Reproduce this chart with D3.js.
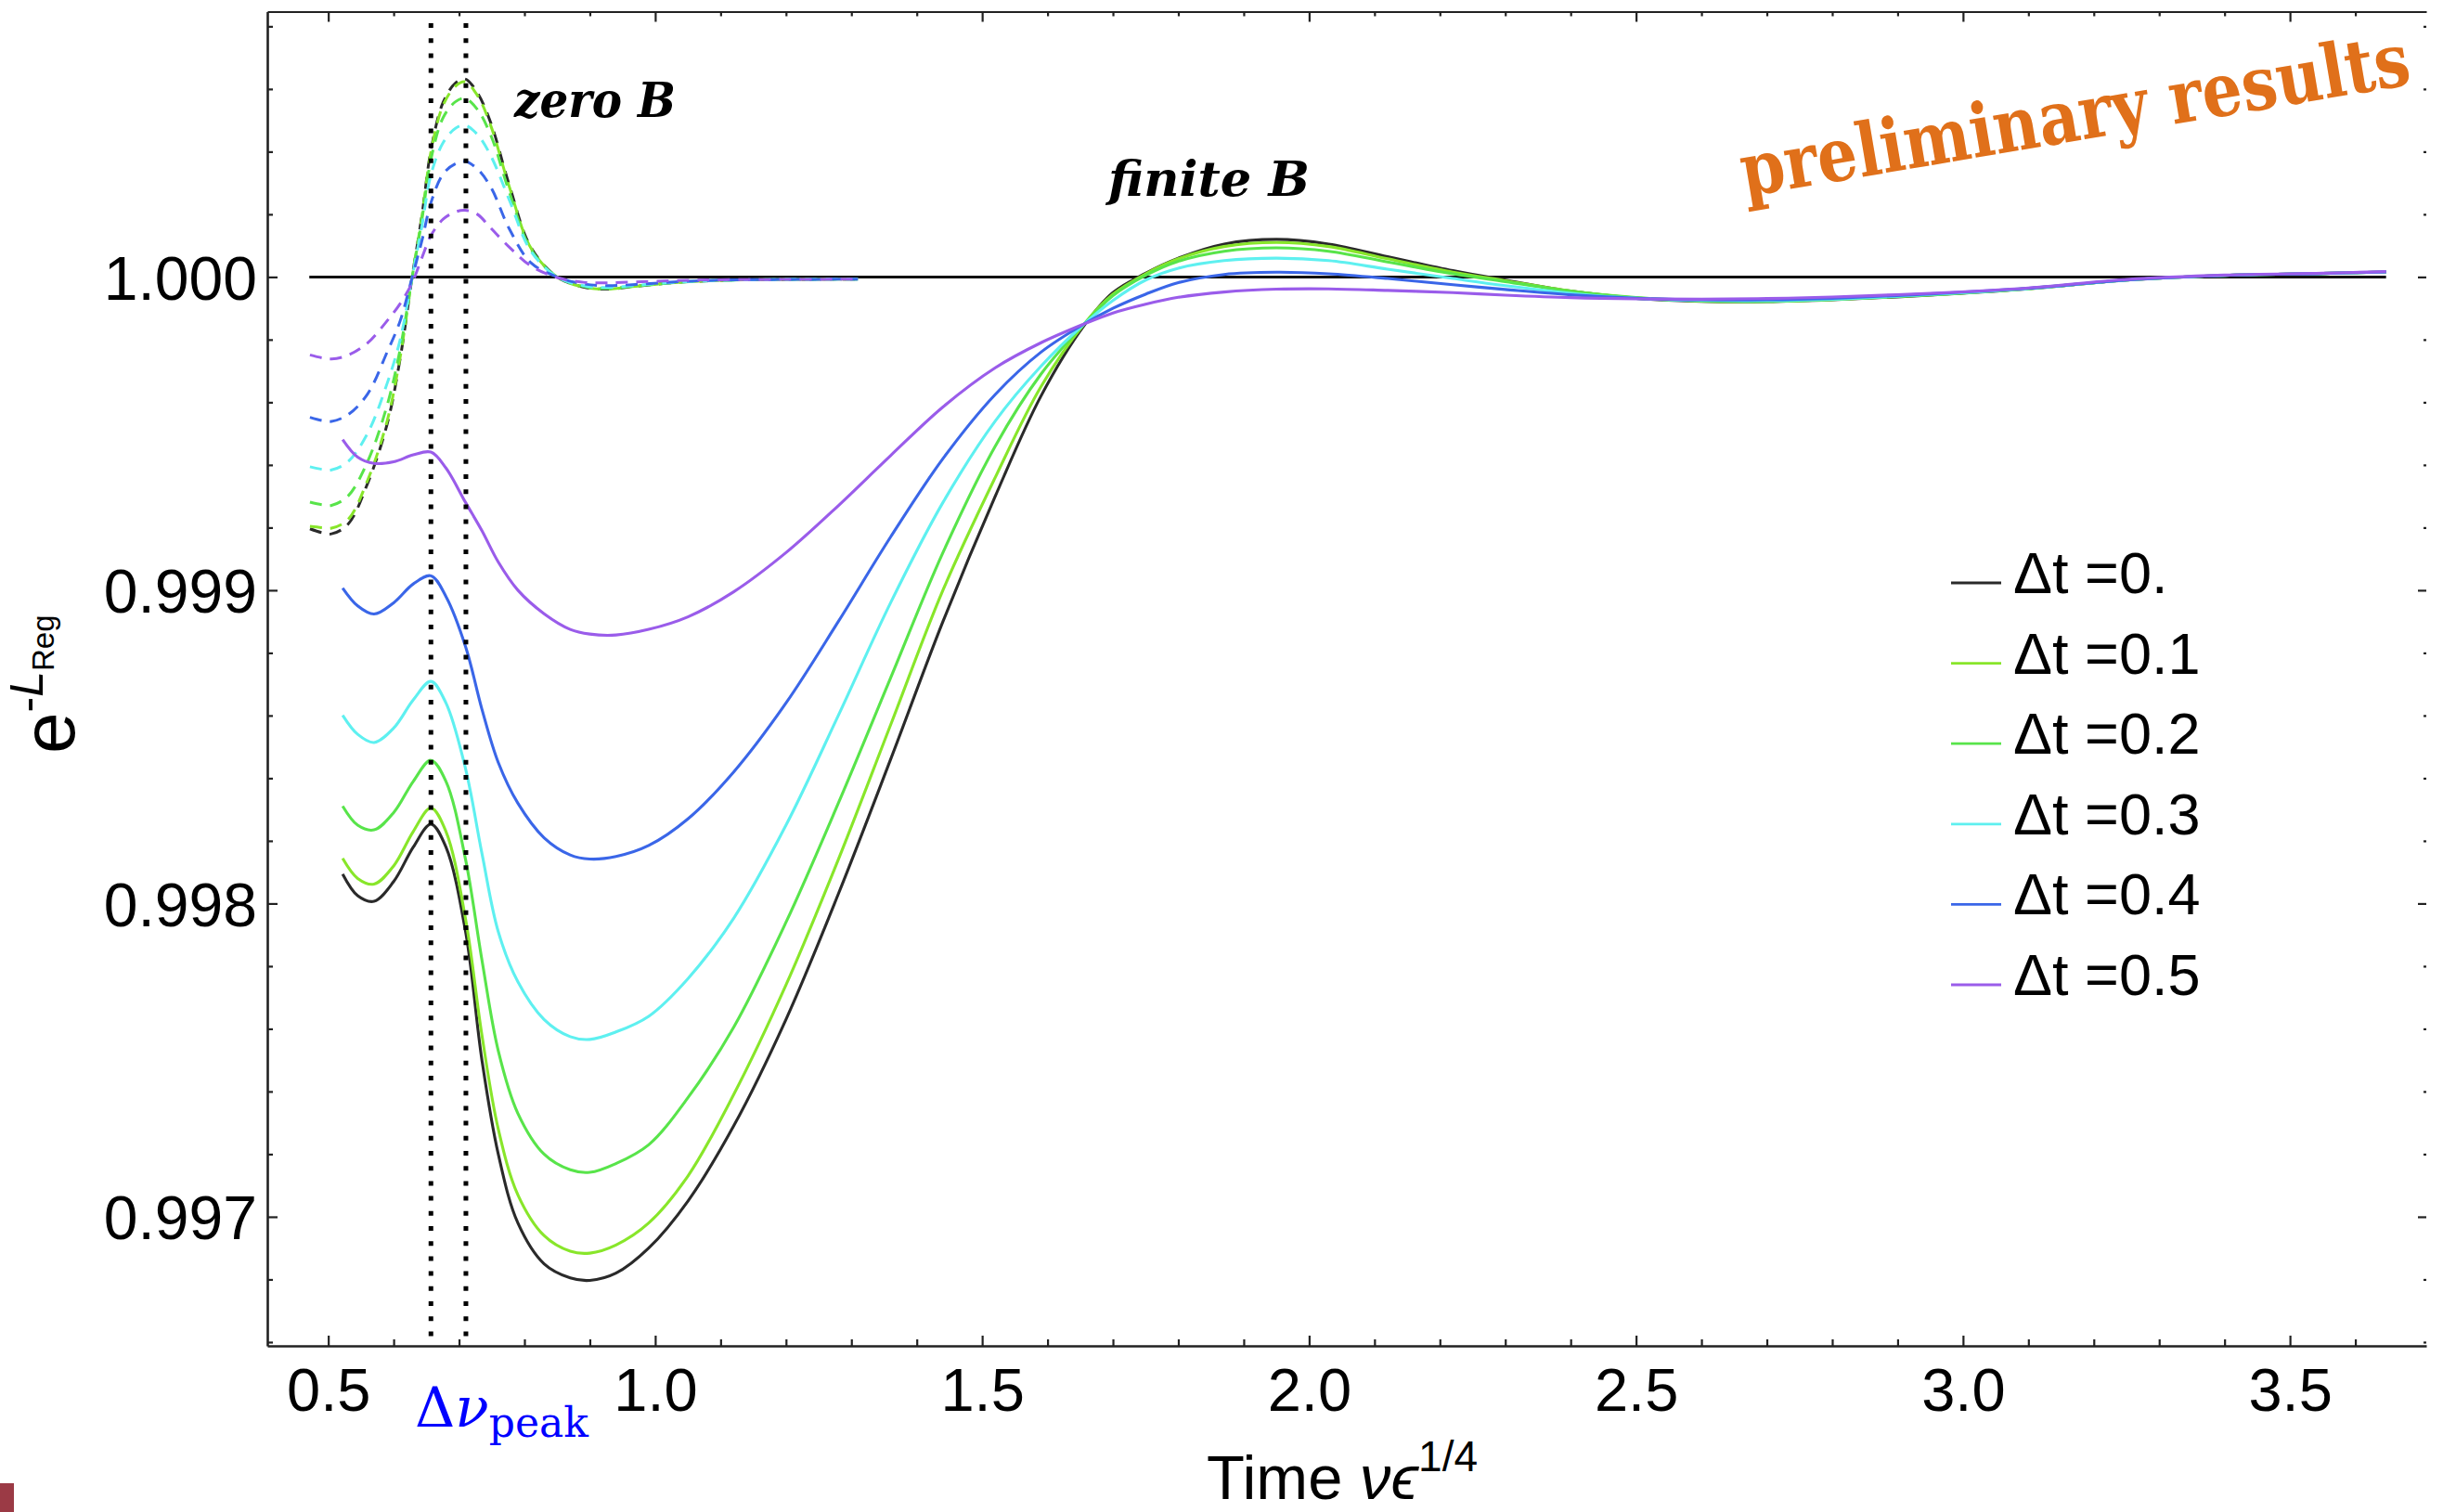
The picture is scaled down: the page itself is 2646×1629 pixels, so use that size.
<!DOCTYPE html>
<html><head><meta charset="utf-8">
<script src="https://cdn.jsdelivr.net/npm/d3@7"></script>
<style>html,body{margin:0;padding:0;background:#fff}svg{display:block}</style>
</head><body>
<svg id="c" width="2646" height="1629"></svg>
<script>
// ---------------- data ----------------
const seriesLabels = ["Δt =0.", "Δt =0.1", "Δt =0.2", "Δt =0.3", "Δt =0.4", "Δt =0.5"];
const seriesColors = ["#2a2a2a", "#88E62A", "#58E44A", "#5EF0F0", "#3A66E8", "#9A5CEA"];

// finite B (solid) – common time grid
const xFinite = [0.522,0.545,0.570,0.600,0.630,0.657,0.680,0.710,0.735,0.760,0.790,0.830,0.870,0.900,0.940,0.990,1.050,1.120,1.200,1.280,1.360,1.440,1.520,1.590,1.656,1.700,1.750,1.800,1.870,1.950,2.030,2.120,2.220,2.300,2.400,2.500,2.600,2.700,2.800,2.950,3.100,3.250,3.400,3.550,3.647];
const finiteDt0 = [0.998094,0.998025,0.998007,0.998070,0.998180,0.998253,0.998180,0.997910,0.997500,0.997200,0.996980,0.996850,0.996805,0.996797,0.996820,0.996900,0.997050,0.997290,0.997630,0.998030,0.998460,0.998900,0.999300,0.999620,0.999845,0.999950,1.000012,1.000060,1.000105,1.000120,1.000105,1.000065,1.000020,0.999990,0.999955,0.999932,0.999922,0.999921,0.999927,0.999942,0.999962,0.999990,1.000005,1.000011,1.000016];
const finiteDt1 = [0.998144,0.998080,0.998062,0.998120,0.998230,0.998305,0.998230,0.997950,0.997580,0.997280,0.997070,0.996940,0.996890,0.996884,0.996910,0.996980,0.997130,0.997390,0.997740,0.998140,0.998570,0.999000,0.999360,0.999650,0.999850,0.999945,1.000010,1.000058,1.000097,1.000110,1.000097,1.000058,1.000015,0.999988,0.999955,0.999933,0.999923,0.999922,0.999928,0.999943,0.999963,0.999990,1.000005,1.000011,1.000016];
const finiteDt2 = [0.998311,0.998250,0.998235,0.998290,0.998390,0.998457,0.998390,0.998140,0.997820,0.997530,0.997330,0.997200,0.997150,0.997142,0.997170,0.997230,0.997380,0.997605,0.997940,0.998320,0.998720,0.999120,0.999460,0.999690,0.999850,0.999940,1.000005,1.000050,1.000082,1.000093,1.000082,1.000048,1.000010,0.999985,0.999954,0.999934,0.999924,0.999922,0.999928,0.999943,0.999963,0.999990,1.000005,1.000011,1.000016];
const finiteDt3 = [0.998601,0.998540,0.998514,0.998560,0.998650,0.998709,0.998640,0.998430,0.998160,0.997910,0.997750,0.997630,0.997575,0.997566,0.997590,0.997640,0.997760,0.997953,0.998250,0.998600,0.998960,0.999280,0.999540,0.999715,0.999850,0.999925,0.999990,1.000028,1.000052,1.000060,1.000052,1.000025,0.999995,0.999972,0.999948,0.999932,0.999925,0.999924,0.999929,0.999944,0.999963,0.999990,1.000005,1.000011,1.000016];
const finiteDt4 = [0.999007,0.998950,0.998924,0.998960,0.999020,0.999046,0.998980,0.998820,0.998620,0.998450,0.998320,0.998210,0.998155,0.998142,0.998150,0.998185,0.998270,0.998420,0.998640,0.998900,0.999170,0.999420,0.999625,0.999760,0.999850,0.999900,0.999945,0.999982,1.000008,1.000015,1.000010,0.999995,0.999975,0.999960,0.999943,0.999932,0.999927,0.999927,0.999932,0.999946,0.999964,0.999990,1.000005,1.000011,1.000016];
const finiteDt5 = [0.999481,0.999425,0.999405,0.999410,0.999432,0.999441,0.999390,0.999280,0.999190,0.999090,0.999000,0.998925,0.998875,0.998860,0.998857,0.998875,0.998915,0.998995,0.999120,0.999270,0.999430,0.999585,0.999710,0.999790,0.999850,0.999885,0.999913,0.999935,0.999952,0.999961,0.999962,0.999957,0.999950,0.999942,0.999934,0.999930,0.999929,0.999931,0.999936,0.999948,0.999965,0.999992,1.000006,1.000012,1.000017];

// zero B (dashed) – common time grid
const xZero = [0.472,0.490,0.505,0.530,0.560,0.590,0.610,0.628,0.643,0.6575,0.676,0.695,0.709,0.728,0.749,0.777,0.810,0.850,0.890,0.925,0.970,1.030,1.100,1.200,1.310];
const zeroDt0 = [0.999196,0.999184,0.999180,0.999210,0.999340,0.999530,0.999740,0.999996,1.000193,1.000410,1.000559,1.000620,1.000632,1.000588,1.000489,1.000292,1.000094,1.000000,0.999968,0.999961,0.999970,0.999982,0.999989,0.999992,0.999993];
const zeroDt1 = [0.999204,0.999200,0.999198,0.999225,0.999350,0.999540,0.999745,0.999996,1.000190,1.000405,1.000550,1.000610,1.000623,1.000580,1.000480,1.000287,1.000092,1.000000,0.999968,0.999961,0.999970,0.999982,0.999989,0.999992,0.999993];
const zeroDt2 = [0.999281,0.999273,0.999271,0.999300,0.999410,0.999590,0.999770,0.999996,1.000180,1.000380,1.000510,1.000560,1.000570,1.000535,1.000450,1.000270,1.000088,1.000000,0.999970,0.999963,0.999971,0.999982,0.999989,0.999992,0.999993];
const zeroDt3 = [0.999394,0.999386,0.999384,0.999410,0.999500,0.999660,0.999800,0.999996,1.000160,1.000330,1.000430,1.000475,1.000484,1.000455,1.000385,1.000245,1.000082,1.000000,0.999972,0.999966,0.999973,0.999983,0.999989,0.999992,0.999993];
const zeroDt4 = [0.999552,0.999542,0.999539,0.999560,0.999626,0.999760,0.999860,0.999996,1.000114,1.000240,1.000330,1.000362,1.000369,1.000345,1.000285,1.000153,1.000045,1.000000,0.999978,0.999972,0.999976,0.999984,0.999990,0.999992,0.999993];
const zeroDt5 = [0.999751,0.999742,0.999738,0.999750,0.999789,0.999860,0.999915,0.999980,1.000060,1.000134,1.000185,1.000208,1.000213,1.000200,1.000155,1.000095,1.000035,0.999998,0.999983,0.999981,0.999984,0.999988,0.999991,0.999992,0.999993];

const referenceLine = [[0.471, 1.0], [3.647, 1.0]];
const peakMarkers = [0.657, 0.7105];
const xMajorTicks = [0.5, 1.0, 1.5, 2.0, 2.5, 3.0, 3.5];
const yMajorTicks = [0.997, 0.998, 0.999, 1.000];

const finiteSeries = [finiteDt0, finiteDt1, finiteDt2, finiteDt3, finiteDt4, finiteDt5];
const zeroSeries = [zeroDt0, zeroDt1, zeroDt2, zeroDt3, zeroDt4, zeroDt5];

// ---------------- layout ----------------
const L = 288, R = 2614, T = 12.5, B = 1450;
const svg = d3.select("#c");
const xScale = d3.scaleLinear().domain([0.4068, 3.7085]).range([L, R]);
const yScale = d3.scaleLinear().domain([0.996588, 1.000847]).range([B, T]);
const axisColor = "#222";
const tickFont = "'Liberation Sans', Arial, Helvetica, sans-serif";

const xMinor = d3.range(4, 38).map(d => d / 10).filter(v => v > 0.41 && v < 3.70 && Math.abs(v*2 - Math.round(v*2)) > 1e-6);
const yMinor = d3.range(9966, 10009, 2).map(d => d / 10000).filter(v => Math.abs(v*1000 - Math.round(v*1000)) > 1e-6);

// ---- axes ----
function styleAxis(g, fs) {
  g.attr("font-family", tickFont).attr("font-size", fs).attr("color", axisColor);
  g.selectAll(".tick line").attr("stroke-width", 2.2);
  g.select(".domain").attr("stroke-width", 2.6);
  g.selectAll("text").attr("fill", "#000");
}
// bottom
const gb = svg.append("g").attr("transform", `translate(0,${B})`)
  .call(d3.axisBottom(xScale).tickValues(xMajorTicks).tickSize(-11).tickSizeOuter(0).tickPadding(24).tickFormat(d3.format(".1f")));
styleAxis(gb, 65);
const gbm = svg.append("g").attr("transform", `translate(0,${B})`)
  .call(d3.axisBottom(xScale).tickValues(xMinor).tickSize(-7).tickFormat(""));
gbm.select(".domain").remove(); styleAxis(gbm, 10);
// top
const gt = svg.append("g").attr("transform", `translate(0,${T})`)
  .call(d3.axisTop(xScale).tickValues(xMajorTicks).tickSize(-11).tickSizeOuter(0).tickFormat(""));
styleAxis(gt, 10); gt.select(".domain").attr("stroke-width", 2.2);
const gtm = svg.append("g").attr("transform", `translate(0,${T})`)
  .call(d3.axisTop(xScale).tickValues(xMinor).tickSize(-5).tickFormat(""));
gtm.select(".domain").remove(); styleAxis(gtm, 10);
// left
const gl = svg.append("g").attr("transform", `translate(${L},0)`)
  .call(d3.axisLeft(yScale).tickValues(yMajorTicks).tickSize(-11).tickSizeOuter(0).tickPadding(11).tickFormat(d3.format(".3f")));
styleAxis(gl, 66);
gl.selectAll("text").attr("dy", "0.36em");
const glm = svg.append("g").attr("transform", `translate(${L},0)`)
  .call(d3.axisLeft(yScale).tickValues(yMinor).tickSize(-6).tickFormat(""));
glm.select(".domain").remove(); styleAxis(glm, 10);
// right (ticks only)
const gr = svg.append("g").attr("transform", `translate(${R},0)`)
  .call(d3.axisRight(yScale).tickValues(yMajorTicks).tickSize(-9).tickFormat(""));
gr.select(".domain").remove(); styleAxis(gr, 10);
const grm = svg.append("g").attr("transform", `translate(${R},0)`)
  .call(d3.axisRight(yScale).tickValues(yMinor).tickSize(-3).tickFormat(""));
grm.select(".domain").remove(); styleAxis(grm, 10);

// ---- curves ----
const line = d3.line().x(d => xScale(d[0])).y(d => yScale(d[1])).curve(d3.curveCatmullRom.alpha(0.5));
const plot = svg.append("g");

plot.append("path").attr("d", line(referenceLine))
  .attr("fill", "none").attr("stroke", "#111").attr("stroke-width", 3);

zeroSeries.forEach((ys, i) => {
  plot.append("path").attr("d", line(xZero.map((x, k) => [x, ys[k]])))
    .attr("fill", "none").attr("stroke", seriesColors[i]).attr("stroke-width", 3)
    .attr("stroke-dasharray", "13,9");
});
finiteSeries.forEach((ys, i) => {
  plot.append("path").attr("d", line(xFinite.map((x, k) => [x, ys[k]])))
    .attr("fill", "none").attr("stroke", seriesColors[i]).attr("stroke-width", 3.1);
});

// dotted markers
peakMarkers.forEach(x => {
  plot.append("line").attr("x1", xScale(x)).attr("x2", xScale(x))
    .attr("y1", 25).attr("y2", B)
    .attr("stroke", "#000").attr("stroke-width", 5).attr("stroke-dasharray", "5,11.2");
});

// ---- legend ----
const legend = svg.append("g");
seriesLabels.forEach((lab, i) => {
  const yy = 628 + i * 86.6;
  legend.append("line").attr("x1", 2102).attr("x2", 2156).attr("y1", yy).attr("y2", yy)
    .attr("stroke", seriesColors[i]).attr("stroke-width", 2.8);
  legend.append("text").attr("x", 2169).attr("y", yy + 11)
    .attr("font-family", tickFont).attr("font-size", 63).attr("fill", "#000").text(lab);
});

// ---- annotations (fit to measured width with a horizontal scale) ----
function fittedText(x, y, angle, width, str, attrs) {
  const t = svg.append("text").attr("x", 0).attr("y", 0).text(str);
  Object.entries(attrs).forEach(([k, v]) => t.attr(k, v));
  const natural = t.node().getComputedTextLength();
  const sx = width / natural;
  t.attr("transform", `translate(${x},${y}) rotate(${angle}) scale(${sx},1)`);
  return t;
}
const annFont = { "font-family": "'DejaVu Serif', serif", "font-weight": "bold", "font-style": "italic", "font-size": 52, "fill": "#000" };
fittedText(554, 126, 0, 174, "zero B", annFont);
fittedText(1194, 211, 0, 217, "finite B", annFont);
fittedText(1880, 212, -9.6, 730, "preliminary results",
  { "font-family": "'DejaVu Serif', serif", "font-weight": "bold", "font-size": 80, "fill": "#E0701A" });

// Δν_peak label
const dl = svg.append("text").attr("x", 447).attr("y", 1537)
  .attr("font-family", "'DejaVu Serif', serif").attr("fill", "#0000FF");
dl.append("tspan").attr("font-size", 60).text("Δ");
dl.append("tspan").attr("font-size", 60).attr("font-style", "italic").text("ν");
dl.append("tspan").attr("font-size", 44).attr("dy", 11).text("peak");

// x title
const xt = svg.append("text").attr("x", 1300).attr("y", 1615)
  .attr("font-family", tickFont).attr("font-size", 67).attr("fill", "#000");
xt.append("tspan").text("Time ");
xt.append("tspan").attr("font-style", "italic").text("νϵ");
xt.append("tspan").attr("font-size", 46).attr("dy", -30).text("1/4");

// y title
const yt = svg.append("text").attr("transform", "translate(80,812) rotate(-90)")
  .attr("font-family", tickFont).attr("font-size", 80).attr("fill", "#000");
yt.append("tspan").text("e");
yt.append("tspan").attr("font-size", 50).attr("dy", -34).text("-");
yt.append("tspan").attr("font-size", 50).attr("font-style", "italic").text("L");
yt.append("tspan").attr("font-size", 33).attr("dy", 12).text("Reg");

// corner mark
svg.append("rect").attr("x", 0).attr("y", 1598).attr("width", 15).attr("height", 31).attr("fill", "#9B3A45");
</script>
</body></html>
